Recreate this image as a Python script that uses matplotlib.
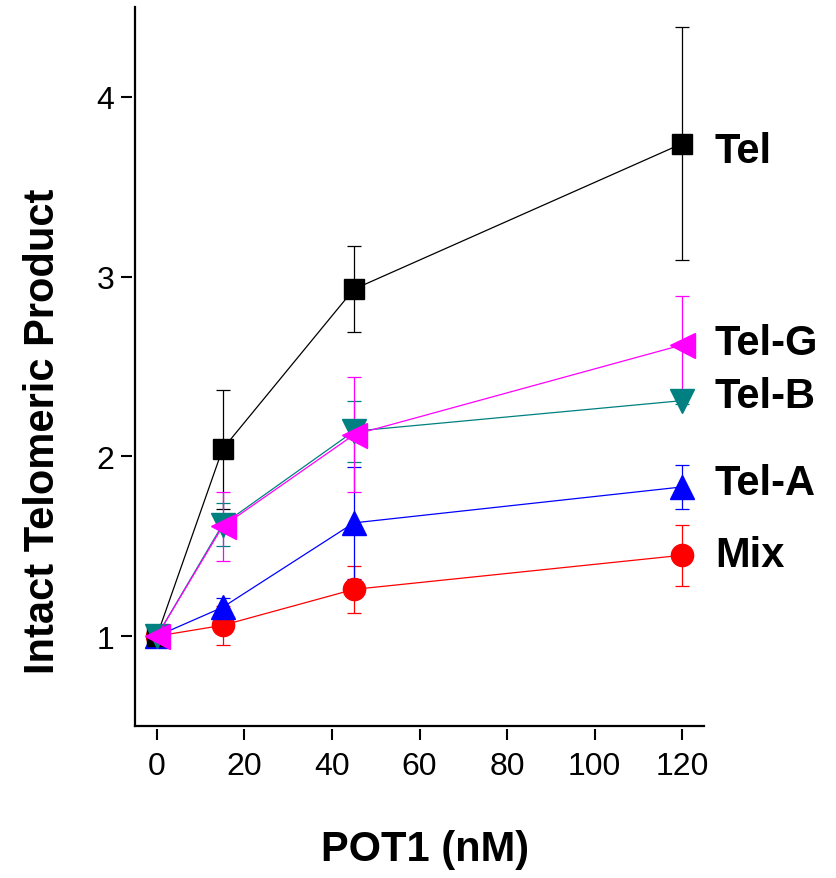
import numpy as np
import matplotlib
matplotlib.use("Agg")
import matplotlib.pyplot as plt

plt.rcParams['font.family'] = ['Liberation Sans', 'DejaVu Sans']

# POT1 concentrations (nM)
pot1 = [0, 15, 45, 120]

# intact telomeric product, mean and error
tel = [1.0, 2.04, 2.93, 3.74]
tel_err = [0.02, 0.33, 0.24, 0.65]
tel_g = [1.0, 1.61, 2.12, 2.62]
tel_g_err = [0.02, 0.19, 0.32, 0.27]
tel_b = [1.0, 1.62, 2.14, 2.31]
tel_b_err = [0.02, 0.12, 0.17, 0.02]
tel_a = [1.0, 1.16, 1.63, 1.83]
tel_a_err = [0.02, 0.05, 0.31, 0.12]
mix = [1.0, 1.06, 1.26, 1.45]
mix_err = [0.02, 0.11, 0.13, 0.17]

labels = ["Tel", "Tel-G", "Tel-B", "Tel-A", "Mix"]
label_y = [3.70, 2.63, 2.335, 1.85, 1.45]

fig = plt.figure(figsize=(8.36, 8.79), dpi=100)
ax = fig.add_axes([135/836, 1-727/879, 569/836, 719/879])

#drawing order: back to front
series = [
    (mix, mix_err, 'red', 'o', 16),
    (tel_a, tel_a_err, 'blue', '^', 17),
    (tel, tel_err, 'black', 's', 14.5),
    (tel_b, tel_b_err, '#008080', 'v', 17),
    (tel_g, tel_g_err, 'magenta', '<', 18),
]
for y, e, c, m, ms in series:
    ax.errorbar(pot1, y, yerr=e, color=c, marker=m, markersize=ms,
                markeredgecolor=c, lw=0.9, elinewidth=0.9,
                capsize=5, capthick=0.9)

for lab, ly in zip(labels, label_y):
    ax.text(127.5, ly, lab, fontsize=30, fontweight='bold', va='center',
            ha='left', clip_on=False)

ax.set_xlim(-5, 125)
ax.set_ylim(0.5, 4.5)
ax.set_xticks([0, 20, 40, 60, 80, 100, 120])
ax.set_yticks([1, 2, 3, 4])

# ticks sit a little away from the axis lines
for side in ['top', 'right']:
    ax.spines[side].set_visible(False)
for side in ['left', 'bottom']:
    ax.spines[side].set_position(('outward', 2))
    ax.spines[side].set_visible(False)
ax.plot([0, 0], [0, 1], transform=ax.transAxes, color='black', lw=1.6, clip_on=False)
ax.plot([0, 1], [0, 0], transform=ax.transAxes, color='black', lw=1.6, clip_on=False)

ax.tick_params(direction='out', length=8, width=1.5, labelsize=23)
ax.tick_params(axis='x', pad=8)
ax.tick_params(axis='y', pad=5)

fig.text(425/836, 1-850/879, "POT1 (nM)", fontsize=30, fontweight='bold',
         ha='center', va='center')
fig.text(43/836, 1-431/879, "Intact Telomeric Product", fontsize=30,
         fontweight='bold', ha='center', va='center', rotation=90)

fig.savefig("out.png", dpi=100)
